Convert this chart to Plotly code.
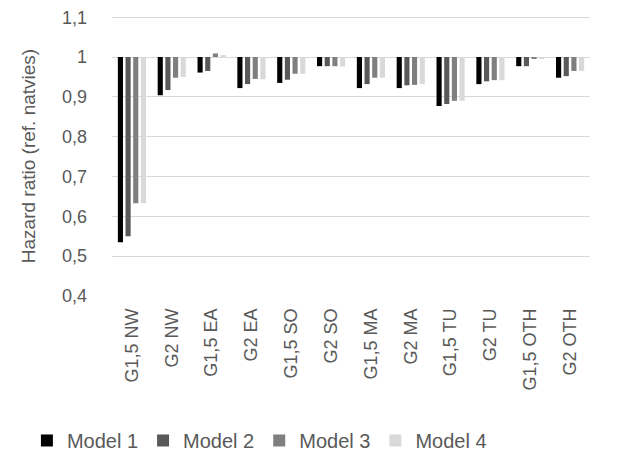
import plotly.graph_objects as go

categories = ["G1,5 NW", "G2 NW", "G1,5 EA", "G2 EA", "G1,5 SO", "G2 SO",
              "G1,5 MA", "G2 MA", "G1,5 TU", "G2 TU", "G1,5 OTH", "G2 OTH"]
model1 = [0.535, 0.904, 0.961, 0.922, 0.935, 0.977, 0.922, 0.922, 0.877, 0.932, 0.977, 0.948]
model2 = [0.550, 0.917, 0.965, 0.932, 0.943, 0.977, 0.932, 0.929, 0.882, 0.939, 0.977, 0.952]
model3 = [0.633, 0.948, 1.009, 0.945, 0.958, 0.977, 0.948, 0.930, 0.890, 0.942, 0.996, 0.965]
model4 = [0.633, 0.950, 1.005, 0.944, 0.958, 0.976, 0.948, 0.932, 0.890, 0.942, 0.995, 0.965]
series_names = ["Model 1", "Model 2", "Model 3", "Model 4"]
colors = ["#000000", "#595959", "#7f7f7f", "#d9d9d9"]
baseline = 1.0
tick_vals = [0.4, 0.5, 0.6, 0.7, 0.8, 0.9, 1.0, 1.1]
tick_text = ["0,4", "0,5", "0,6", "0,7", "0,8", "0,9", "1", "1,1"]

fig = go.Figure()
for name, vals, col in zip(series_names, [model1, model2, model3, model4], colors):
    fig.add_trace(go.Bar(
        x=categories, y=[v - baseline for v in vals], base=baseline,
        name=name, marker=dict(color=col, line=dict(width=0)),
    ))

fig.update_layout(
    width=609, height=448,
    margin=dict(l=104, r=27, t=8, b=160, autoexpand=False),
    paper_bgcolor="white", plot_bgcolor="white",
    barmode="group", bargap=0.23, bargroupgap=0.33,
    font=dict(family="Liberation Sans, Arial, sans-serif", color="#595959", size=18),
    showlegend=True,
    legend=dict(orientation="h", x=-0.178, xanchor="left", y=-0.516, yanchor="middle",
                font=dict(size=20, color="#595959"), itemwidth=30, traceorder="normal"),
    yaxis=dict(range=[0.4, 1.103], tickvals=tick_vals, ticktext=tick_text,
               showgrid=True, gridcolor="#d9d9d9", gridwidth=1.3, zeroline=False,
               showline=False, ticks="", ticklen=0, ticklabelstandoff=24,
               ticklabeloverflow="allow",
               tickfont=dict(size=18, color="#595959"),
               title=dict(text="Hazard ratio (ref. natvies)", font=dict(size=19, color="#595959"), standoff=21)),
    xaxis=dict(tickangle=-90, showline=False, ticks="", showgrid=False, ticklabelstandoff=8,
               tickfont=dict(size=18, color="#595959")),
)

fig.write_html("out.html")
